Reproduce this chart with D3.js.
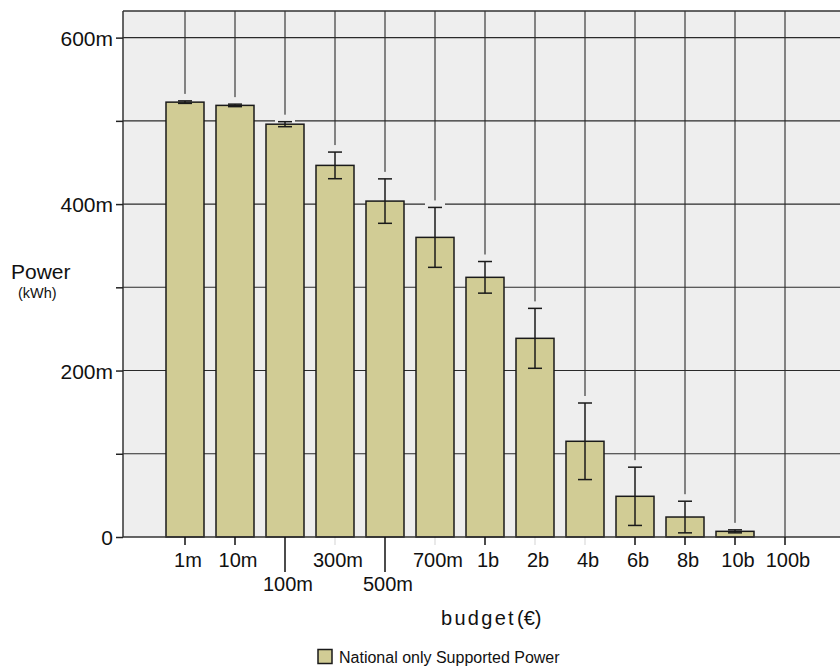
<!DOCTYPE html>
<html>
<head>
<meta charset="utf-8">
<script src="https://cdn.jsdelivr.net/npm/d3@7"></script>
<style>
  html, body { margin: 0; padding: 0; background: #ffffff; }
  svg { display: block; font-family: "Liberation Sans", Arial, Helvetica, sans-serif; }
</style>
</head>
<body>
<svg id="chart" width="840" height="669"></svg>
<script>
// ---- data ----
const categories = ["1m", "10m", "100m", "300m", "500m", "700m", "1b", "2b", "4b", "6b", "8b", "10b", "100b"];
const power = [0.5225, 0.5186, 0.4960, 0.4465, 0.4036, 0.3600, 0.3120, 0.2387, 0.1150, 0.0489, 0.0240, 0.0068, 0];
const errors = [0.0015, 0.0015, 0.0030, 0.0160, 0.0267, 0.0360, 0.0190, 0.0360, 0.0460, 0.0350, 0.0190, 0.0018, 0];
const yTicks = [0, 0.1, 0.2, 0.3, 0.4, 0.5, 0.6];
const yTickLabels = ["0", "", "200m", "", "400m", "", "600m"];
const staggeredLabels = ["100m", "500m"];
const faintTicks = ["300m", "700m", "2b", "4b"];
const seriesName = "National only Supported Power";
const yTitle = "Power";
const yUnit = "(kWh)";
const xTitle = "budget";
const xUnit = "(€)";

// ---- layout ----
const svg = d3.select("#chart");
const plot = { left: 123, top: 11, right: 840, bottom: 537 };
const bg = "#eeeeee";
const barFill = "#d1cc95";
const ink = "#1a1a1a";
const gridCol = "#2a2a2a";

const x = d3.scaleBand().domain(categories).range([141, 829]).paddingInner(0.24).paddingOuter(0.5);
const y = d3.scaleLinear().domain([0, 0.632]).range([plot.bottom, plot.top]);

// background
svg.append("rect")
  .attr("x", plot.left).attr("y", plot.top)
  .attr("width", plot.right - plot.left).attr("height", plot.bottom - plot.top)
  .attr("fill", bg);

// horizontal gridlines
svg.append("g").selectAll("line").data(yTicks.filter(d => d > 0)).join("line")
  .attr("x1", plot.left).attr("x2", plot.right)
  .attr("y1", d => y(d)).attr("y2", d => y(d))
  .attr("stroke", gridCol).attr("stroke-width", 1.1);

// vertical gridlines through bar centres
svg.append("g").selectAll("line").data(categories).join("line")
  .attr("x1", d => x(d) + x.bandwidth() / 2).attr("x2", d => x(d) + x.bandwidth() / 2)
  .attr("y1", plot.top).attr("y2", plot.bottom)
  .attr("stroke", gridCol).attr("stroke-width", 1.1);

const rows = categories.map((c, i) => ({ c, v: power[i], e: errors[i] }));
const capW = 14;

// halos around top caps (break gridlines)
svg.append("g").selectAll("rect").data(rows.filter(d => d.v > 0)).join("rect")
  .attr("x", d => x(d.c) + x.bandwidth() / 2 - capW / 2 - 3)
  .attr("y", d => y(d.v + d.e) - 7)
  .attr("width", capW + 6)
  .attr("height", d => Math.max(10, y(d.v) - y(d.v + d.e) + 7))
  .attr("fill", bg);

// bars
svg.append("g").selectAll("rect").data(rows).join("rect")
  .attr("x", d => x(d.c))
  .attr("y", d => y(d.v))
  .attr("width", x.bandwidth())
  .attr("height", d => y(0) - y(d.v))
  .attr("fill", barFill)
  .attr("stroke", ink)
  .attr("stroke-width", 1.5);

// error bars
const eb = svg.append("g").attr("stroke", ink).attr("stroke-width", 1.5).attr("fill", "none");
rows.filter(d => d.v > 0).forEach(d => {
  const cx = x(d.c) + x.bandwidth() / 2;
  const yt = y(d.v + d.e), yb = y(d.v - d.e);
  eb.append("line").attr("x1", cx).attr("x2", cx).attr("y1", yt).attr("y2", yb);
  eb.append("line").attr("x1", cx - capW / 2).attr("x2", cx + capW / 2).attr("y1", yt).attr("y2", yt);
  eb.append("line").attr("x1", cx - capW / 2).attr("x2", cx + capW / 2).attr("y1", yb).attr("y2", yb);
});

// frame: top + left + bottom
svg.append("line").attr("x1", plot.left).attr("x2", plot.right).attr("y1", plot.top).attr("y2", plot.top)
  .attr("stroke", "#333").attr("stroke-width", 1.5);
svg.append("line").attr("x1", plot.left).attr("x2", plot.left).attr("y1", plot.top).attr("y2", plot.bottom)
  .attr("stroke", "#333").attr("stroke-width", 1.5);
svg.append("line").attr("x1", plot.left).attr("x2", plot.right).attr("y1", plot.bottom).attr("y2", plot.bottom)
  .attr("stroke", "#333").attr("stroke-width", 1.5);

// y axis
const yAxis = svg.append("g").attr("transform", `translate(${plot.left},0)`)
  .call(d3.axisLeft(y).tickValues(yTicks).tickFormat((d, i) => yTickLabels[i]).tickSize(7).tickPadding(3));
yAxis.select(".domain").remove();
yAxis.selectAll(".tick line").attr("stroke", "#222").attr("stroke-width", 1.5);
yAxis.selectAll(".tick text").attr("font-size", 21).attr("fill", "#111")
  .attr("font-family", "Liberation Sans, Arial, sans-serif").attr("dy", "0.36em");

// x axis
const xAxis = svg.append("g").attr("transform", `translate(0,${plot.bottom})`)
  .call(d3.axisBottom(x).tickSize(8).tickPadding(0));
xAxis.select(".domain").remove();
xAxis.selectAll(".tick line")
  .attr("stroke", "#111").attr("stroke-width", 1.5)
  .attr("y2", d => staggeredLabels.includes(d) ? 35 : 8)
  .attr("stroke-opacity", d => faintTicks.includes(d) ? 0.12 : 1);
xAxis.selectAll(".tick text")
  .attr("font-size", 20).attr("fill", "#111")
  .attr("font-family", "Liberation Sans, Arial, sans-serif")
  .attr("dy", null)
  .attr("x", 3)
  .attr("y", d => staggeredLabels.includes(d) ? 54 : 30);

// y title
svg.append("text").attr("x", 11).attr("y", 279).attr("font-size", 21).attr("fill", "#111").text(yTitle);
svg.append("text").attr("x", 18).attr("y", 298).attr("font-size", 14.5).attr("fill", "#111").text(yUnit);

// x title
const xt = svg.append("text").attr("x", 441).attr("y", 625).attr("font-size", 20).attr("fill", "#111");
xt.append("tspan").attr("letter-spacing", "2.3px").text(xTitle);
xt.append("tspan").attr("dx", 1).text(xUnit);

// legend
svg.append("rect").attr("x", 318).attr("y", 649.5).attr("width", 14).attr("height", 14)
  .attr("fill", barFill).attr("stroke", ink).attr("stroke-width", 1.5);
svg.append("text").attr("x", 339).attr("y", 663).attr("font-size", 16).attr("fill", "#111").text(seriesName);
</script>
</body>
</html>
